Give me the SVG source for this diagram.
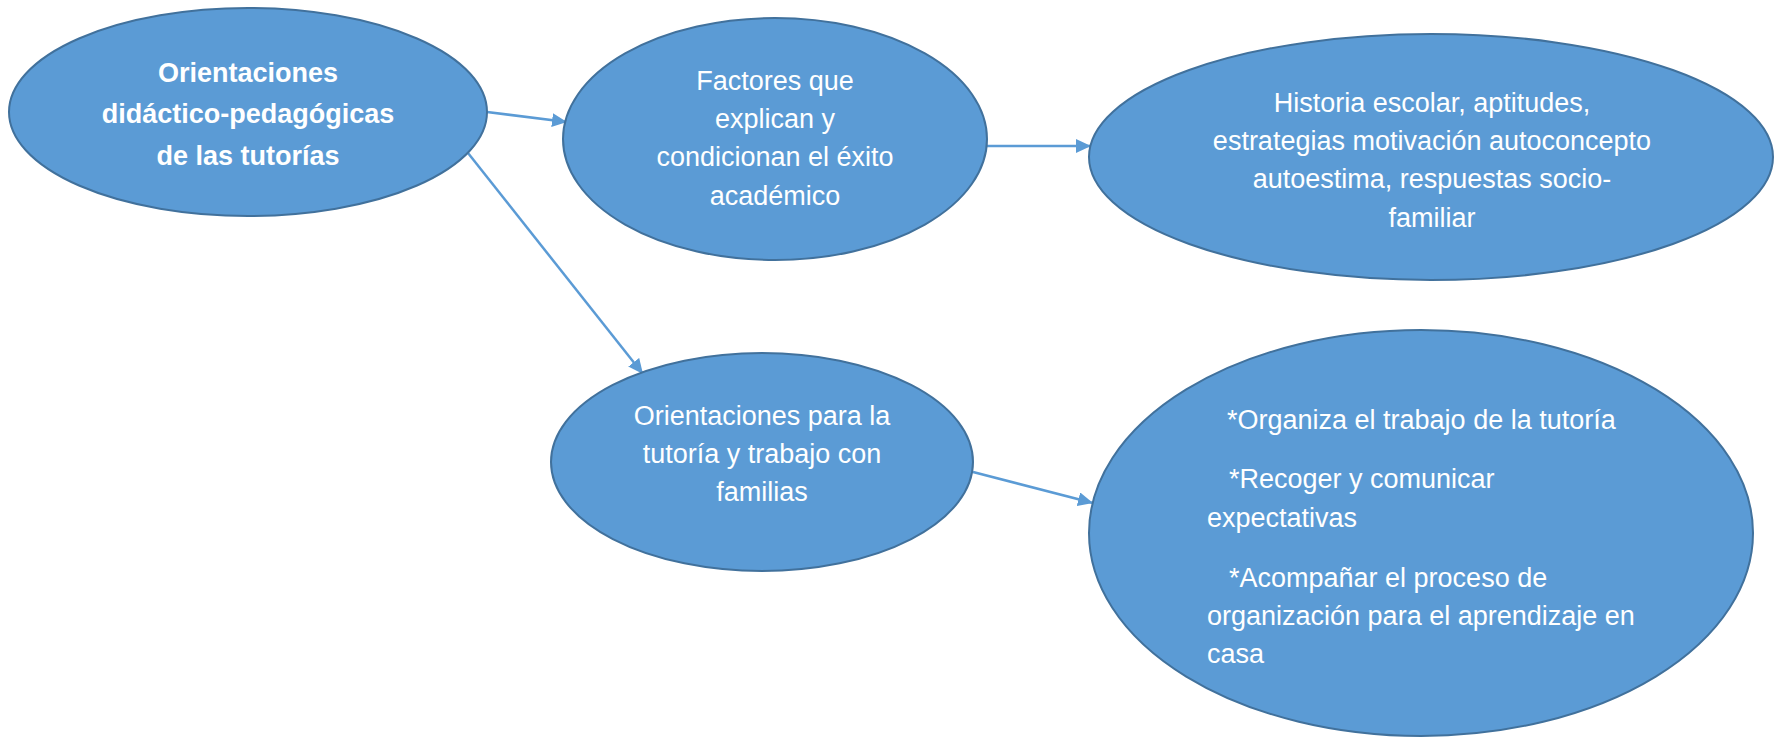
<svg xmlns="http://www.w3.org/2000/svg" width="1775" height="737" viewBox="0 0 1775 737">
<defs>
<marker id="arr" markerUnits="userSpaceOnUse" markerWidth="15" markerHeight="14" refX="15" refY="7" orient="auto">
<path d="M0,0 L15,7 L0,14 z" fill="#5B9BD5"/>
</marker>
<style>
.node ellipse{fill:#5B9BD5;stroke:#41719C;stroke-width:2}
.node text{fill:#ffffff;font-family:"Liberation Sans",Arial,sans-serif;font-size:27px}
.c{text-anchor:middle}
.b{font-weight:bold}
.conn line{stroke:#5B9BD5;stroke-width:2.5;marker-end:url(#arr)}
</style>
</defs>
<rect width="1775" height="737" fill="#ffffff"/>
<g id="connectors" class="conn">
<line x1="487" y1="112" x2="567" y2="122"/>
<line x1="468" y1="153" x2="643" y2="374"/>
<line x1="986" y1="146" x2="1091" y2="146"/>
<line x1="973" y1="472" x2="1093" y2="503"/>
</g>
<g id="n1" class="node">
<ellipse cx="248" cy="112" rx="239" ry="104"/>
<text class="c b" x="248" y="82">Orientaciones</text>
<text class="c b" x="248" y="123">didáctico-pedagógicas</text>
<text class="c b" x="248" y="165">de las tutorías</text>
</g>
<g id="n2" class="node">
<ellipse cx="775" cy="139" rx="212" ry="121"/>
<text class="c" x="775" y="90">Factores que</text>
<text class="c" x="775" y="128">explican y</text>
<text class="c" x="775" y="166">condicionan el éxito</text>
<text class="c" x="775" y="205">académico</text>
</g>
<g id="n3" class="node">
<ellipse cx="1431" cy="157" rx="342" ry="123"/>
<text class="c" x="1432" y="112">Historia escolar, aptitudes,</text>
<text class="c" x="1432" y="150">estrategias motivación autoconcepto</text>
<text class="c" x="1432" y="188">autoestima, respuestas socio-</text>
<text class="c" x="1432" y="227">familiar</text>
</g>
<g id="n4" class="node">
<ellipse cx="762" cy="462" rx="211" ry="109"/>
<text class="c" x="762" y="425">Orientaciones para la</text>
<text class="c" x="762" y="463">tutoría y trabajo con</text>
<text class="c" x="762" y="501">familias</text>
</g>
<g id="n5" class="node">
<ellipse cx="1421" cy="533" rx="332" ry="203"/>
<text x="1227" y="429">*Organiza el trabajo de la tutoría</text>
<text x="1229" y="488">*Recoger y comunicar</text>
<text x="1207" y="527">expectativas</text>
<text x="1229" y="587">*Acompañar el proceso de</text>
<text x="1207" y="625">organización para el aprendizaje en</text>
<text x="1207" y="663">casa</text>
</g>
</svg>
